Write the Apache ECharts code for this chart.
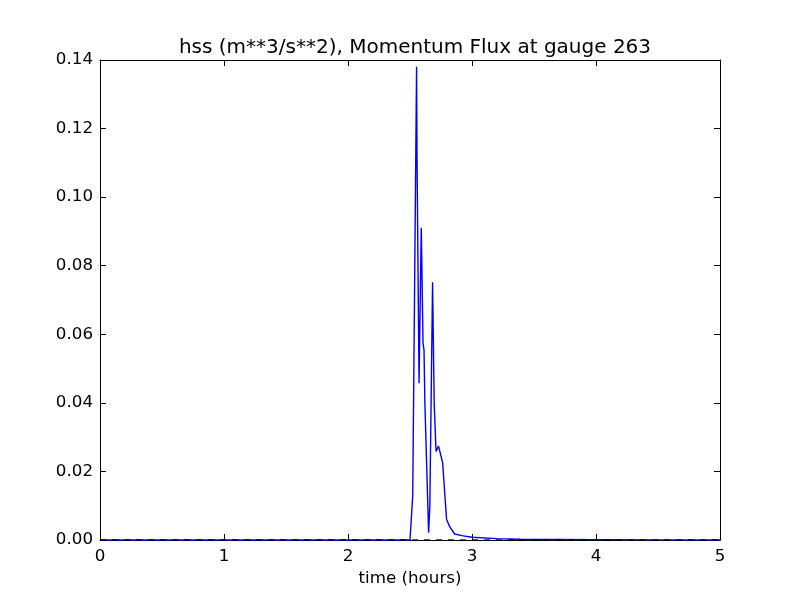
<!DOCTYPE html>
<html>
<head>
<meta charset="utf-8">
<script src="https://cdn.jsdelivr.net/npm/echarts@6/dist/echarts.min.js"></script>
<style>html,body{margin:0;padding:0;background:#fff;}#c{width:800px;height:600px;}</style>
</head>
<body>
<div id="c"></div>
<script>
var titleText = 'hss (m**3/s**2), Momentum Flux at gauge 263';
var xLabel = 'time (hours)';
var xTicks = [0, 1, 2, 3, 4, 5];
var yTicks = [0, 0.02, 0.04, 0.06, 0.08, 0.10, 0.12, 0.14];
var times = [0, 0.5, 1, 1.5, 2, 2.5, 2.516, 2.522, 2.553, 2.557, 2.573, 2.591, 2.605, 2.613, 2.62, 2.65, 2.66, 2.682, 2.695, 2.71, 2.73, 2.763, 2.795, 2.82, 2.86, 2.93, 3.0, 3.2, 3.39, 4, 4.5, 5];
var values = [0, 0, 0, 0, 0, 0, 0, 0.013, 0.138, 0.110, 0.0457, 0.0911, 0.0575, 0.0554, 0.040, 0.0021, 0.010, 0.0752, 0.040, 0.0258, 0.0274, 0.0226, 0.006, 0.0039, 0.00175, 0.0012, 0.0008, 0.0004, 0.0002, 0.0001, 0.00005, 0];
var zeroLine = [[0, 0], [5, 0]];

var data = times.map(function (t, i) { return [t, values[i]]; });
var font = 'DejaVu Sans';
var chart = echarts.init(document.getElementById('c'));
function axisLine() { return { show: true, onZero: false, lineStyle: { color: '#000', width: 1 } }; }
function axisTick() { return { show: true, inside: true, length: 6, lineStyle: { color: '#000', width: 1 } }; }
chart.setOption({
  animation: false,
  backgroundColor: '#fff',
  title: {
    text: titleText, left: 410, textAlign: 'center', top: 33,
    textStyle: { fontFamily: font, fontSize: 20, fontWeight: 'normal', color: '#000' }
  },
  grid: { left: 100, right: 80, top: 60, bottom: 60, containLabel: false },
  xAxis: [
    {
      type: 'value', min: 0, max: 5, interval: 1, position: 'bottom',
      name: xLabel, nameLocation: 'middle', nameGap: 30,
      nameTextStyle: { fontFamily: font, fontSize: 16.7, color: '#000' },
      axisLine: axisLine(), axisTick: axisTick(), splitLine: { show: false },
      axisLabel: { fontFamily: font, fontSize: 16.7, color: '#000', margin: 8,
        formatter: function (v) { return xTicks.indexOf(v) >= 0 ? String(v) : ''; } }
    },
    {
      type: 'value', min: 0, max: 5, interval: 1, position: 'top',
      axisLine: axisLine(), axisTick: axisTick(), splitLine: { show: false },
      axisLabel: { show: false }
    }
  ],
  yAxis: [
    {
      type: 'value', min: 0, max: 0.14, interval: 0.02, position: 'left',
      axisLine: axisLine(), axisTick: axisTick(), splitLine: { show: false },
      axisLabel: { fontFamily: font, fontSize: 16.7, color: '#000', margin: 7,
        formatter: function (v) { return v.toFixed(2); } }
    },
    {
      type: 'value', min: 0, max: 0.14, interval: 0.02, position: 'right',
      axisLine: axisLine(), axisTick: axisTick(), splitLine: { show: false },
      axisLabel: { show: false }
    }
  ],
  series: [
    {
      type: 'line', data: data, showSymbol: false, symbol: 'none',
      lineStyle: { color: '#0000ff', width: 1.4 }, z: 2
    },
    {
      type: 'line', data: zeroLine, showSymbol: false, symbol: 'none',
      lineStyle: { color: '#000', width: 1.3, type: [6, 6] }, z: 3
    }
  ]
});
</script>
</body>
</html>
